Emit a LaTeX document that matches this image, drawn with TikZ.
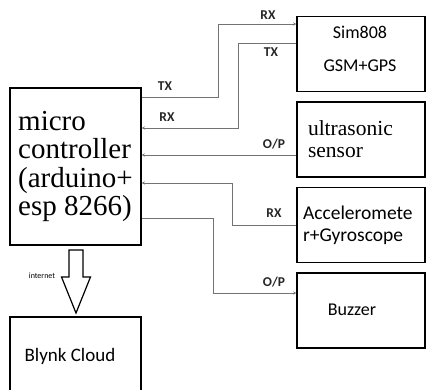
\documentclass[tikz,border=0pt]{standalone}
\usepackage{fontspec}
\usepackage{tikz}
\usetikzlibrary{arrows.meta,calc,positioning}
\newfontfamily\serifbox{Liberation Serif}
\newfontfamily\sansbox{Carlito}
\tikzset{
  blk/.style={draw,line width=1.5pt,minimum width=128pt,minimum height=75pt,inner sep=0pt},
  wire/.style={draw=black!55,line width=0.9pt,-{Stealth[length=3pt,width=3pt]}},
  pin/.style={font=\sansbox\bfseries\fontsize{13.5}{14}\selectfont,inner sep=0pt,text=black!85},
  boxtxt/.style={font=\sansbox\fontsize{18}{33}\selectfont,align=center,inner sep=0pt}
}

\begin{document}
\begin{tikzpicture}[x=1pt,y=-1pt]
  \clip (0,0) rectangle (426,389);
  % controller and cloud
  \node[draw,line width=1.5pt,minimum width=131pt,minimum height=157pt,align=left,inner sep=0pt,
        font=\serifbox\fontsize{29}{28.3}\selectfont] (mcu) at (75.5,166.5) {micro\\controller\\(arduino+\\esp 8266)};
  \node[draw,line width=1.5pt,minimum width=131pt,minimum height=80pt] (cloud) at (75.5,357) {};
  \node[boxtxt,font=\sansbox\fontsize{19}{19}\selectfont] (cloudtxt) at (70,356) {Blynk Cloud};
  % peripherals
  \node[blk] (sim) at (361,54) {};
  \node[boxtxt] (simtxt) at (360,48.5) {Sim808\\GSM+GPS};
  \node[blk,align=left,text width=106pt,inner xsep=11pt,
        font=\serifbox\fontsize{21.5}{22}\selectfont] (ultra) at (361,139.5) {ultrasonic\\sensor};
  \node[blk,align=left,text width=116pt,inner xsep=6pt,
        font=\sansbox\fontsize{19.5}{22}\selectfont] (accel) at (361,225) {Acceleromete\\r+Gyroscope};
  \node[blk] (buzz) at (361,310.5) {};
  \node[boxtxt] (buzztxt) at (352,310) {Buzzer};
  % wires
  \draw[wire] (mcu.east |- 0,97) -| (218,24) -- (sim.west |- 0,24);
  \draw[wire] (sim.west |- 0,43) -| (238,128) -- (mcu.east |- 0,128);
  \draw[wire] (ultra.west |- 0,155) -- (mcu.east |- 0,155);
  \draw[wire] (accel.west |- 0,225) -| (232,183) -- (mcu.east |- 0,183);
  \draw[wire] (mcu.east |- 0,218) -| (213,293) -- (buzz.west |- 0,293);
  \node[pin] (rx1) at (268,15) {RX};
  \node[pin] (tx1) at (271,52) {TX};
  \node[pin] (tx2) at (165,86) {TX};
  \node[pin] (rx2) at (167,117) {RX};
  \node[pin] (op1) at (274,144) {O/P};
  \node[pin] (rx3) at (274,213) {RX};
  \node[pin] (op2) at (274,282) {O/P};
  % internet arrow
  \draw[line width=1.2pt,line join=miter] (69,250) -- (69,277) -- (61.5,277) -- (76,313)
    -- (90.5,277) -- (83,277) -- (83,250) -- cycle;
  \node[font=\sansbox\fontsize{8}{8}\selectfont,inner sep=0pt] (net) at (42,276) {internet};
\end{tikzpicture}
\end{document}
